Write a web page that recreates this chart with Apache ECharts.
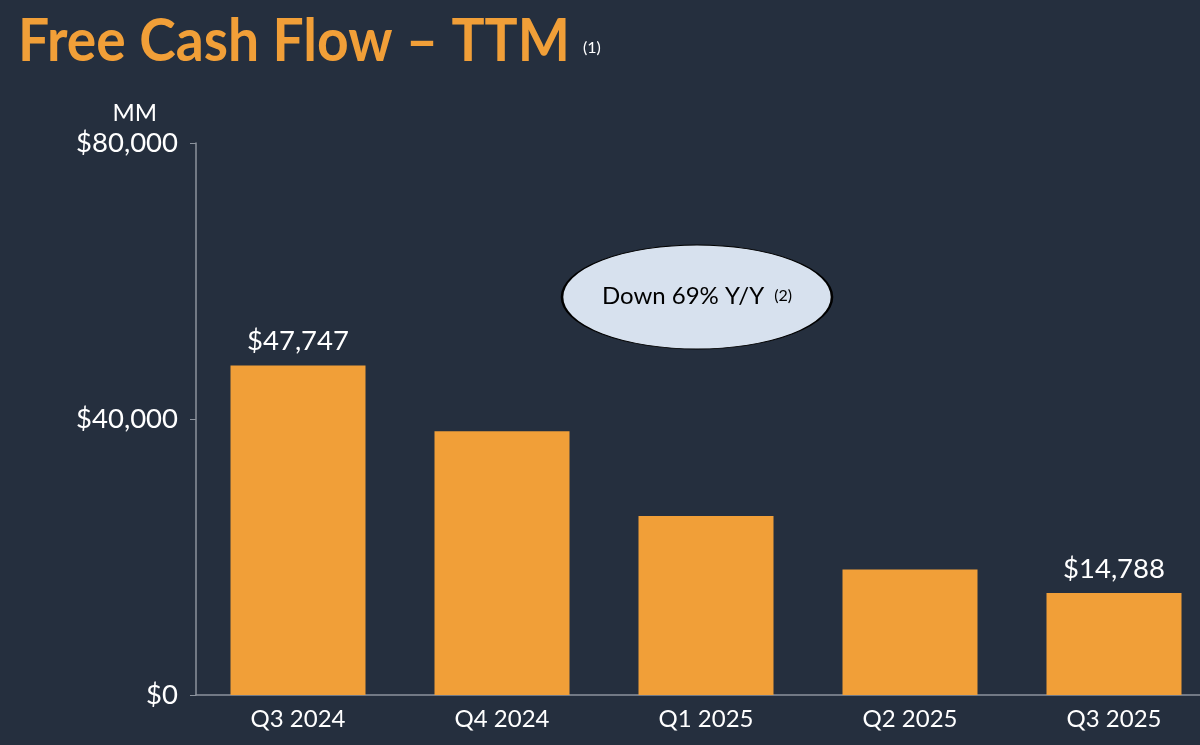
<!DOCTYPE html>
<html><head><meta charset="utf-8">
<script src="https://cdn.jsdelivr.net/npm/echarts@6/dist/echarts.min.js"></script>
<style>html,body{margin:0;padding:0;background:#252f3e;overflow:hidden;width:1200px;height:745px;}#c{width:1216px;height:745px;}</style>
</head><body><div id="c"></div>
<script>
const categories = ['Q3 2024', 'Q4 2024', 'Q1 2025', 'Q2 2025', 'Q3 2025'];
const fcfValues = [47747, 38219, 25925, 18184, 14788];
const labeledBars = [0, 4];
const yTicks = { min: 0, max: 80000, interval: 40000 };

const fmt = v => '$' + v.toLocaleString('en-US');
const chart = echarts.init(document.getElementById('c'));
chart.setOption({
  backgroundColor: '#252f3e',
  animation: false,
  grid: { left: 196, right: 0, top: 143, bottom: 50, containLabel: false },
  xAxis: {
    type: 'category', data: categories,
    axisLine: { lineStyle: { color: '#8c939d', width: 1.5 } },
    axisTick: { alignWithLabel: true, length: 5, lineStyle: { color: '#8c939d' } },
    axisLabel: { color: '#ffffff', fontSize: 24, fontFamily: 'Lato', margin: 12 }
  },
  yAxis: {
    type: 'value', min: yTicks.min, max: yTicks.max, interval: yTicks.interval,
    name: 'MM', nameLocation: 'end', nameGap: 30,
    nameTextStyle: { color: '#ffffff', fontSize: 24, fontFamily: 'Lato', align: 'right', verticalAlign: 'middle', padding: [0, 39, 0, 0] },
    axisLine: { show: true, lineStyle: { color: '#8c939d', width: 1.5 } },
    axisTick: { show: true, length: 6, lineStyle: { color: '#8c939d' } },
    splitLine: { show: false },
    axisLabel: { color: '#ffffff', fontSize: 27.5, fontFamily: 'Lato', margin: 18, formatter: fmt }
  },
  series: [{
    type: 'bar', barWidth: 135,
    itemStyle: { color: '#f19f38' },
    data: fcfValues.map((v, i) => ({
      value: v,
      label: { show: labeledBars.includes(i), position: 'top', distance: 10, color: '#ffffff', fontSize: 27.5, fontFamily: 'Lato', formatter: p => fmt(p.value) }
    }))
  }],
  graphic: [
    { type: 'text', left: 18, top: 12, scaleX: 0.92,
      style: { text: 'Free Cash Flow – TTM', fill: '#f19f38', font: 'bold 60px Lato' } },
    { type: 'text', left: 583, top: 40,
      style: { text: '(1)', fill: '#ffffff', font: '16px Lato' } },
    { type: 'circle', x: 697, y: 297, scaleX: 135 / 52, shape: { cx: 0, cy: 0, r: 52 },
      style: { fill: '#d7e1ee', stroke: '#000000', lineWidth: 1, strokeNoScale: true } },
    { type: 'text', x: 697, y: 296,
      style: { text: '{a|Down 69% Y/Y }{b|(2)}', align: 'center', verticalAlign: 'middle',
        rich: { a: { fontSize: 24, fontFamily: 'Lato', fill: '#000000' }, b: { fontSize: 16, fontFamily: 'Lato', fill: '#000000', padding: [0, 0, 0, 4] } } } }
  ]
});
</script></body></html>
